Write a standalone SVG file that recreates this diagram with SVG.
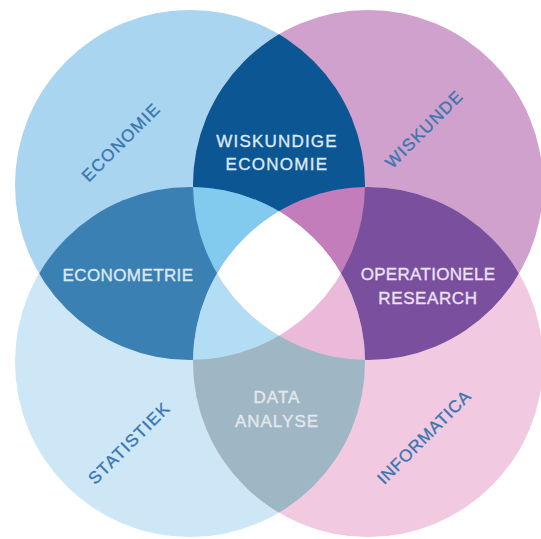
<svg xmlns="http://www.w3.org/2000/svg" width="541" height="539" viewBox="0 0 541 539">
<style>
.lbl{font-family:"Liberation Sans",Arial,Helvetica,sans-serif;font-size:17px;stroke-width:0.35px;}
.out{fill:#3a77b0;stroke:#3a77b0;text-anchor:middle;letter-spacing:1.3px;}
.in{text-anchor:middle;letter-spacing:1px;}
.lt{fill:#dde9f5;stroke:#dde9f5;}
.lp{fill:#ebe2f2;stroke:#ebe2f2;}
.lg{fill:#e3e8ec;stroke:#e3e8ec;}
</style>
<defs>
<clipPath id="cTL"><circle cx="190" cy="185" r="175"/></clipPath>
<clipPath id="cTR"><circle cx="368" cy="185" r="175"/></clipPath>
<clipPath id="cBL"><circle cx="190" cy="362" r="175"/></clipPath>
<clipPath id="cBR"><circle cx="368" cy="362" r="175"/></clipPath>
</defs>
<rect width="541" height="539" fill="#ffffff"/>
<g id="sets">
<circle id="economie-set" cx="190" cy="185" r="175" fill="#a9d5f0"/>
<circle id="wiskunde-set" cx="368" cy="185" r="175" fill="#d0a1cd"/>
<circle id="statistiek-set" cx="190" cy="362" r="175" fill="#cde7f7"/>
<circle id="informatica-set" cx="368" cy="362" r="175" fill="#f1cae2"/>
<g clip-path="url(#cTL)"><circle cx="368" cy="185" r="175" fill="#0c5694"/></g>
<g clip-path="url(#cTL)"><circle cx="190" cy="362" r="175" fill="#3b80b2"/></g>
<g clip-path="url(#cTR)"><circle cx="368" cy="362" r="175" fill="#7a509e"/></g>
<g clip-path="url(#cBL)"><circle cx="368" cy="362" r="175" fill="#9fb6c4"/></g>
<g clip-path="url(#cTL)"><g clip-path="url(#cTR)"><circle cx="190" cy="362" r="175" fill="#82caee"/></g></g>
<g clip-path="url(#cTL)"><g clip-path="url(#cTR)"><circle cx="368" cy="362" r="175" fill="#c37dba"/></g></g>
<g clip-path="url(#cTL)"><g clip-path="url(#cBL)"><circle cx="368" cy="362" r="175" fill="#b3ddf4"/></g></g>
<g clip-path="url(#cTR)"><g clip-path="url(#cBL)"><circle cx="368" cy="362" r="175" fill="#ebbadb"/></g></g>
<g clip-path="url(#cTL)"><g clip-path="url(#cTR)"><g clip-path="url(#cBL)"><circle cx="368" cy="362" r="175" fill="#ffffff"/></g></g></g>
</g>
<g id="economie"><text class="lbl out" transform="translate(121,142) rotate(-45)" y="6">ECONOMIE</text></g>
<g id="wiskunde"><text class="lbl out" transform="translate(424,129) rotate(-45)" y="6">WISKUNDE</text></g>
<g id="statistiek"><text class="lbl out" transform="translate(129,443) rotate(-45)" y="6">STATISTIEK</text></g>
<g id="informatica"><text class="lbl out" transform="translate(424,437) rotate(-45)" y="6" style="letter-spacing:0.8px">INFORMATICA</text></g>
<g id="wiskundige-economie"><text class="lbl in lt" x="277" y="147" style="letter-spacing:1.2px">WISKUNDIGE</text><text class="lbl in lt" x="277" y="170" style="letter-spacing:1.3px">ECONOMIE</text></g>
<g id="econometrie"><text class="lbl in lt" x="128" y="281" style="letter-spacing:0.4px">ECONOMETRIE</text></g>
<g id="operationele-research"><text class="lbl in lp" x="428" y="280" style="letter-spacing:0.3px">OPERATIONELE</text><text class="lbl in lp" x="428" y="304" style="letter-spacing:0.6px">RESEARCH</text></g>
<g id="data-analyse"><text class="lbl in lg" x="277" y="403">DATA</text><text class="lbl in lg" x="277" y="427">ANALYSE</text></g>
</svg>
